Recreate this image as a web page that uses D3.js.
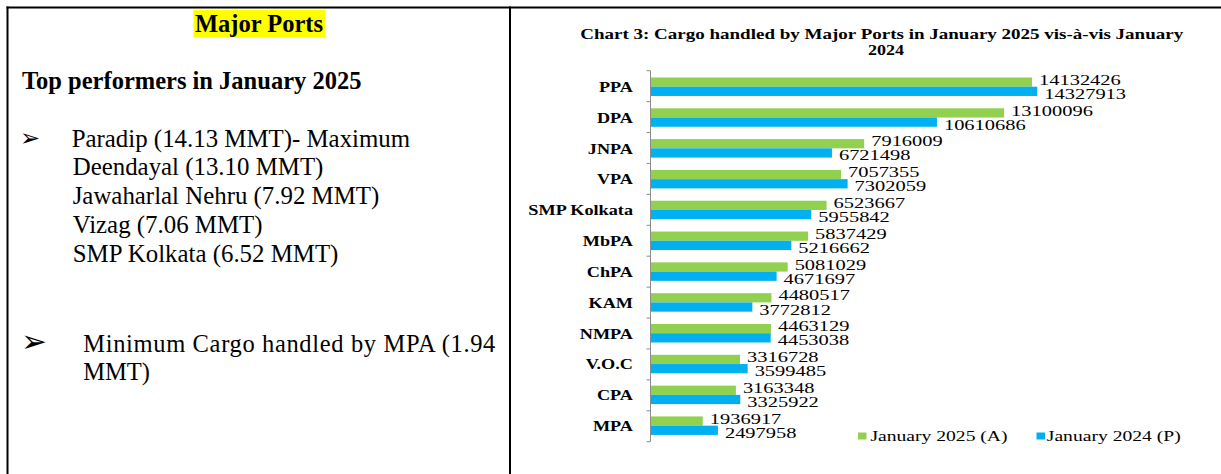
<!DOCTYPE html>
<html>
<head>
<meta charset="utf-8">
<script src="https://cdn.jsdelivr.net/npm/d3@7"></script>
<style>
  body { margin: 0; background: #fff; }
  svg { display: block; }
</style>
</head>
<body>
<svg id="page"></svg>
<script>
// chart data
const ports = ["PPA", "DPA", "JNPA", "VPA", "SMP Kolkata", "MbPA", "ChPA", "KAM", "NMPA", "V.O.C", "CPA", "MPA"];
const jan2025 = [14132426, 13100096, 7916009, 7057355, 6523667, 5837429, 5081029, 4480517, 4463129, 3316728, 3163348, 1936917];
const jan2024 = [14327913, 10610686, 6721498, 7302059, 5955842, 5216662, 4671697, 3772812, 4453038, 3599485, 3325922, 2497958];
const seriesNames = ["January 2025 (A)", "January 2024 (P)"];
const seriesColors = ["#92D050", "#00B0F0"];

// left panel text
const topLines = [
  "Paradip (14.13 MMT)- Maximum",
  "Deendayal (13.10 MMT)",
  "Jawaharlal Nehru (7.92 MMT)",
  "Vizag (7.06 MMT)",
  "SMP Kolkata (6.52 MMT)"
];

const width = 1221, height = 474;
const svg = d3.select("#page").attr("width", width).attr("height", height);

const serif = "'Liberation Serif', 'Times New Roman', serif";

// stretch text horizontally (the source picture is wider than tall)
function stretch(sel, k) {
  sel.each(function () {
    const w = this.getComputedTextLength();
    d3.select(this).attr("textLength", w * k).attr("lengthAdjust", "spacingAndGlyphs");
  });
}

// table borders
svg.append("line").attr("x1", 6.5).attr("x2", width).attr("y1", 7.5).attr("y2", 7.5)
  .attr("stroke", "#000").attr("stroke-width", 2);
svg.append("line").attr("x1", 7.5).attr("x2", 7.5).attr("y1", 6.5).attr("y2", height)
  .attr("stroke", "#000").attr("stroke-width", 2);
svg.append("line").attr("x1", 510).attr("x2", 510).attr("y1", 6.5).attr("y2", height)
  .attr("stroke", "#000").attr("stroke-width", 2);

// ---- left cell ----
const left = svg.append("g").attr("font-family", serif).attr("fill", "#000");

left.append("rect").attr("x", 193.5).attr("y", 10).attr("width", 131.5).attr("height", 27.5).attr("fill", "#FFFF00");
left.append("text").attr("x", 259).attr("y", 31.5).attr("text-anchor", "middle")
  .attr("font-size", 24.5).attr("font-weight", "bold").text("Major Ports");

left.append("text").attr("x", 22).attr("y", 89.3)
  .attr("font-size", 24.5).attr("font-weight", "bold").text("Top performers in January 2025");

left.append("text").attr("x", 20).attr("y", 146.3).attr("font-family", "'DejaVu Sans'")
  .attr("font-size", 24).text("➢");

const topText = left.selectAll("text.top").data(topLines).enter().append("text")
  .attr("class", "top")
  .attr("x", (d, i) => i === 0 ? 71.7 : 72.7)
  .attr("y", (d, i) => 146.7 + i * 28.75)
  .attr("font-size", 24.5)
  .text(d => d);
stretch(topText, 1.015);

left.append("text").attr("x", 21).attr("y", 351.7).attr("font-family", "'DejaVu Sans'")
  .attr("font-size", 31).text("➢");
left.append("text").attr("x", 83.3).attr("y", 351.7).attr("font-size", 24.5)
  .attr("textLength", 412).attr("lengthAdjust", "spacing")
  .text("Minimum Cargo handled by MPA (1.94");
left.append("text").attr("x", 83.3).attr("y", 380).attr("font-size", 24.5).text("MMT)");

// ---- chart ----
const chart = svg.append("g").attr("font-family", serif).attr("fill", "#000");

chart.append("text").attr("x", 881.7).attr("y", 39).attr("text-anchor", "middle")
  .attr("font-size", 15).attr("font-weight", "bold")
  .attr("textLength", 603).attr("lengthAdjust", "spacingAndGlyphs")
  .text("Chart 3: Cargo handled by Major Ports in January 2025 vis-à-vis January");
chart.append("text").attr("x", 886).attr("y", 54.5).attr("text-anchor", "middle")
  .attr("font-size", 15).attr("font-weight", "bold")
  .attr("textLength", 36).attr("lengthAdjust", "spacingAndGlyphs")
  .text("2024");

const axisX = 650.5;
const x = d3.scaleLinear().domain([0, 16000000]).range([axisX, axisX + 16 * 26.995]);

const yTop = 70.7, yBot = 441.7;
const y0 = d3.scaleBand().domain(ports).range([yTop, yBot]).paddingInner(0.4).paddingOuter(0.22);
const y1 = d3.scaleBand().domain(seriesNames).range([0, y0.bandwidth()]);

const rows = ports.map((p, i) => ({ port: p, values: [jan2025[i], jan2024[i]] }));

const row = chart.selectAll("g.row").data(rows).enter().append("g")
  .attr("class", "row")
  .attr("transform", d => `translate(0,${y0(d.port)})`);

row.selectAll("rect").data(d => d.values.map((v, j) => ({ v, s: seriesNames[j], c: seriesColors[j] })))
  .enter().append("rect")
  .attr("x", x(0))
  .attr("y", d => y1(d.s))
  .attr("width", d => x(d.v) - x(0))
  .attr("height", y1.bandwidth())
  .attr("fill", d => d.c);

const labels = row.selectAll("text.val").data(d => d.values.map((v, j) => ({ v, s: seriesNames[j], j })))
  .enter().append("text")
  .attr("class", "val")
  .attr("x", d => x(d.v) + 7)
  .attr("y", d => y1(d.s) + y1.bandwidth() / 2 + (d.j === 0 ? 2.6 : 7.5))
  .attr("font-size", 14)
  .text(d => d.v);
stretch(labels, 1.46);

// category axis
const axisG = chart.append("g").attr("transform", `translate(${axisX},0)`);
const step = (yBot - yTop) / ports.length;
axisG.append("line").attr("x1", 0).attr("x2", 0).attr("y1", yTop).attr("y2", yBot)
  .attr("stroke", "#8c8c8c").attr("stroke-width", 1);
axisG.selectAll("line.tick").data(d3.range(ports.length + 1)).enter().append("line")
  .attr("class", "tick")
  .attr("x1", -4).attr("x2", 0)
  .attr("y1", i => yTop + i * step).attr("y2", i => yTop + i * step)
  .attr("stroke", "#8c8c8c").attr("stroke-width", 1);

const cats = chart.selectAll("text.cat").data(ports).enter().append("text")
  .attr("class", "cat")
  .attr("x", 633)
  .attr("y", d => y0(d) - y0.step() * 0.4 / 2 + y0.step() / 2 + 5.3)
  .attr("text-anchor", "end")
  .attr("font-size", 14).attr("font-weight", "bold")
  .text(d => d);
stretch(cats, 1.3);

// legend
const legendX = [858, 1036.5];
const legend = chart.selectAll("g.legend").data(seriesNames).enter().append("g")
  .attr("class", "legend")
  .attr("transform", (d, i) => `translate(${legendX[i]},0)`);
legend.append("rect").attr("x", 0).attr("y", 432.5).attr("width", 8.5).attr("height", 7)
  .attr("fill", (d, i) => seriesColors[i]);
const legText = legend.append("text").attr("x", (d, i) => i === 0 ? 12.4 : 10.3).attr("y", 441)
  .attr("font-size", 14).text(d => d);
stretch(legText, 1.4);
</script>
</body>
</html>
